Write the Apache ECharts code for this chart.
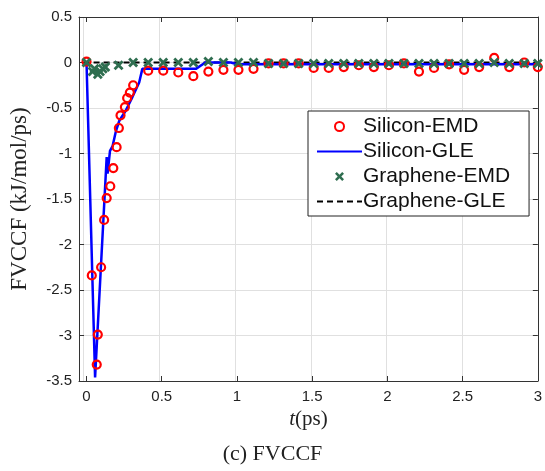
<!DOCTYPE html>
<html>
<head>
<meta charset="utf-8">
<script src="https://cdn.jsdelivr.net/npm/echarts@6/dist/echarts.min.js"></script>
<style>html,body{margin:0;padding:0;background:#fff}#c{width:545px;height:471px}</style>
</head>
<body>
<div id="c"></div>
<script>
// ---- data ----
var xTicks = [0, 0.5, 1, 1.5, 2, 2.5, 3];
var xTickLabels = ['0', '0.5', '1', '1.5', '2', '2.5', '3'];
var yTickLabels = ['0.5', '0', '-0.5', '-1', '-1.5', '-2', '-2.5', '-3', '-3.5'];

var siliconEmdT = [0, 0.035, 0.068, 0.075, 0.097, 0.117, 0.134, 0.158, 0.178, 0.2, 0.215, 0.226, 0.255, 0.27, 0.288, 0.31,
  0.41, 0.51, 0.61, 0.71, 0.81, 0.91, 1.01, 1.11, 1.21, 1.31, 1.41, 1.51, 1.61, 1.71, 1.81, 1.91,
  2.01, 2.11, 2.21, 2.31, 2.41, 2.51, 2.61, 2.71, 2.81, 2.91, 3.0];
var siliconEmdV = [0.01, -2.34, -3.32, -2.99, -2.25, -1.73, -1.49, -1.36, -1.16, -0.93, -0.72, -0.58, -0.49, -0.39, -0.33, -0.25,
  -0.09, -0.09, -0.11, -0.15, -0.10, -0.08, -0.08, -0.07, -0.01, -0.01, -0.01, -0.06, -0.06, -0.05, -0.03, -0.05,
  -0.03, -0.01, -0.10, -0.06, -0.02, -0.08, -0.05, 0.05, -0.05, 0.0, -0.05];

var siliconGleT = [0, 0.057, 0.134, 0.14, 0.156, 0.173, 0.196, 0.218, 0.26, 0.305, 0.35, 0.371, 0.4, 0.727, 0.79, 0.96, 1.0, 3.0];
var siliconGleV = [0, -3.46, -1.04, -1.22, -0.97, -0.92, -0.75, -0.64, -0.53, -0.38, -0.22, -0.07, -0.07, -0.07, 0.0, 0.0, -0.02, -0.02];

var grapheneEmdT = [0, 0.04, 0.053, 0.075, 0.09, 0.108, 0.125, 0.213, 0.31, 0.41, 0.51, 0.61, 0.71, 0.81, 0.91, 1.01,
  1.11, 1.21, 1.31, 1.41, 1.51, 1.61, 1.71, 1.81, 1.91, 2.01, 2.11, 2.21, 2.31, 2.41, 2.51, 2.61, 2.71, 2.81, 2.91, 3.0];
var grapheneEmdV = [0, -0.1, -0.07, -0.13, -0.1, -0.07, -0.05, -0.03, 0, 0, 0, 0, 0, 0.01, 0, 0,
  0, -0.01, -0.01, -0.01, -0.01, -0.01, -0.01, -0.01, -0.01, -0.01, -0.01, -0.01, -0.01, -0.01, -0.01, -0.01, 0, -0.01, -0.01, -0.01];

var grapheneGleT = [0, 3];
var grapheneGleV = [0, 0];

function zip(a, b) { return a.map(function (v, i) { return [v, b[i]]; }); }

var axisColor = '#333333';
var gridColor = '#e0e0e0';
var sans = 'Liberation Sans';
var serif = 'Liberation Serif';
var xShape = 'path://M2,0L5,3L8,0L10,2L7,5L10,8L8,10L5,7L2,10L0,8L3,5L0,2Z';
var hidden = { color: 'rgba(0,0,0,0)', borderWidth: 0, borderColor: 'rgba(0,0,0,0)' };

var xMin = -0.05, xMax = 3;
var gLeft = 76, gRight = 7, gTop = 17, gBottom = 90, W = 545;
var plotW = W - gLeft - gRight;
var g2Left = gLeft + (0 - xMin) / (xMax - xMin) * plotW;

var chart = echarts.init(document.getElementById('c'), null, { renderer: 'canvas' });
chart.setOption({
  animation: false,
  backgroundColor: '#ffffff',
  title: {
    text: '(c) FVCCF', left: 'center', bottom: 1,
    textStyle: { fontFamily: serif, fontSize: 22, fontWeight: 'normal', color: '#222' }
  },
  grid: [
    { left: gLeft, right: gRight, top: gTop, bottom: gBottom, containLabel: false },
    { left: g2Left, right: gRight, top: gTop, bottom: gBottom, containLabel: false }
  ],
  legend: {
    left: 308, top: 111, orient: 'vertical',
    padding: [5, 19, 4, 8], itemGap: 4, itemWidth: 45, itemHeight: 9,
    borderColor: '#222', borderWidth: 1, backgroundColor: '#fff',
    textStyle: { fontFamily: sans, fontSize: 21, color: '#111', padding: [0, 0, 0, -4] },
    data: [
      { name: 'Silicon-EMD' },
      { name: 'Silicon-GLE', itemStyle: hidden },
      { name: 'Graphene-EMD' },
      { name: 'Graphene-GLE', itemStyle: hidden }
    ]
  },
  xAxis: [{
    type: 'value', gridIndex: 0, min: xMin, max: xMax, position: 'bottom',
    name: '{i|t}(ps)', nameLocation: 'middle', nameGap: 17,
    nameTextStyle: { fontFamily: serif, fontSize: 21, color: '#222',
      rich: { i: { fontFamily: serif, fontStyle: 'italic', fontSize: 21, color: '#222' } } },
    axisLine: { show: true, onZero: false, lineStyle: { color: axisColor, width: 1 } },
    axisTick: { show: true, inside: true, length: 5, customValues: xTicks, lineStyle: { color: axisColor } },
    axisLabel: { customValues: xTicks, fontFamily: sans, fontSize: 15, color: '#222', margin: 8,
      formatter: function (v) { var i = xTicks.indexOf(v); return i >= 0 ? xTickLabels[i] : ''; } },
    splitLine: { show: false }
  }, {
    type: 'value', gridIndex: 0, min: xMin, max: xMax, position: 'top',
    axisLine: { show: true, onZero: false, lineStyle: { color: axisColor, width: 1 } },
    axisTick: { show: true, inside: true, length: 5, customValues: xTicks, lineStyle: { color: axisColor } },
    axisLabel: { show: false }, splitLine: { show: false }
  }, {
    type: 'value', gridIndex: 1, min: 0, max: xMax, interval: 0.5,
    axisLine: { show: false }, axisTick: { show: false }, axisLabel: { show: false },
    splitLine: { show: true, lineStyle: { color: gridColor, width: 1 } }
  }],
  yAxis: [{
    type: 'value', gridIndex: 0, min: -3.5, max: 0.5, interval: 0.5, position: 'left',
    name: 'FVCCF (kJ/mol/ps)', nameLocation: 'middle', nameGap: 48, nameRotate: 90,
    nameTextStyle: { fontFamily: serif, fontSize: 23, color: '#222' },
    axisLine: { show: true, onZero: false, lineStyle: { color: axisColor, width: 1 } },
    axisTick: { show: true, inside: true, length: 5, lineStyle: { color: axisColor } },
    axisLabel: { fontFamily: sans, fontSize: 15, color: '#222', margin: 7,
      formatter: function (v) { var i = Math.round((0.5 - v) / 0.5); return yTickLabels[i]; } },
    splitLine: { show: true, lineStyle: { color: gridColor, width: 1 } }
  }, {
    type: 'value', gridIndex: 0, min: -3.5, max: 0.5, interval: 0.5, position: 'right',
    axisLine: { show: true, onZero: false, lineStyle: { color: axisColor, width: 1 } },
    axisTick: { show: true, inside: true, length: 5, lineStyle: { color: axisColor } },
    axisLabel: { show: false }, splitLine: { show: false }
  }, {
    type: 'value', gridIndex: 1, min: -3.5, max: 0.5, interval: 0.5,
    axisLine: { show: false }, axisTick: { show: false }, axisLabel: { show: false },
    splitLine: { show: false }
  }],
  series: [
    {
      name: 'Graphene-GLE', type: 'line', xAxisIndex: 2, yAxisIndex: 2,
      data: zip(grapheneGleT, grapheneGleV),
      showSymbol: false, symbol: 'none',
      lineStyle: { color: '#000000', width: 2, type: [6, 4] }, itemStyle: { color: '#000000' }, z: 3
    },
    {
      name: 'Silicon-GLE', type: 'line', data: zip(siliconGleT, siliconGleV),
      showSymbol: false, symbol: 'none',
      lineStyle: { color: '#0000ff', width: 2.5 }, itemStyle: { color: '#0000ff' }, z: 4
    },
    {
      name: 'Silicon-EMD', type: 'scatter', data: zip(siliconEmdT, siliconEmdV),
      symbol: 'circle', symbolSize: 8,
      itemStyle: { color: 'rgba(0,0,0,0)', borderColor: '#ff0000', borderWidth: 2.2, opacity: 1 }, z: 5
    },
    {
      name: 'Graphene-EMD', type: 'scatter', data: zip(grapheneEmdT, grapheneEmdV),
      symbol: xShape, symbolSize: 10,
      itemStyle: { color: '#2f6e50', opacity: 1 }, z: 6
    }
  ]
});
</script>
</body>
</html>
